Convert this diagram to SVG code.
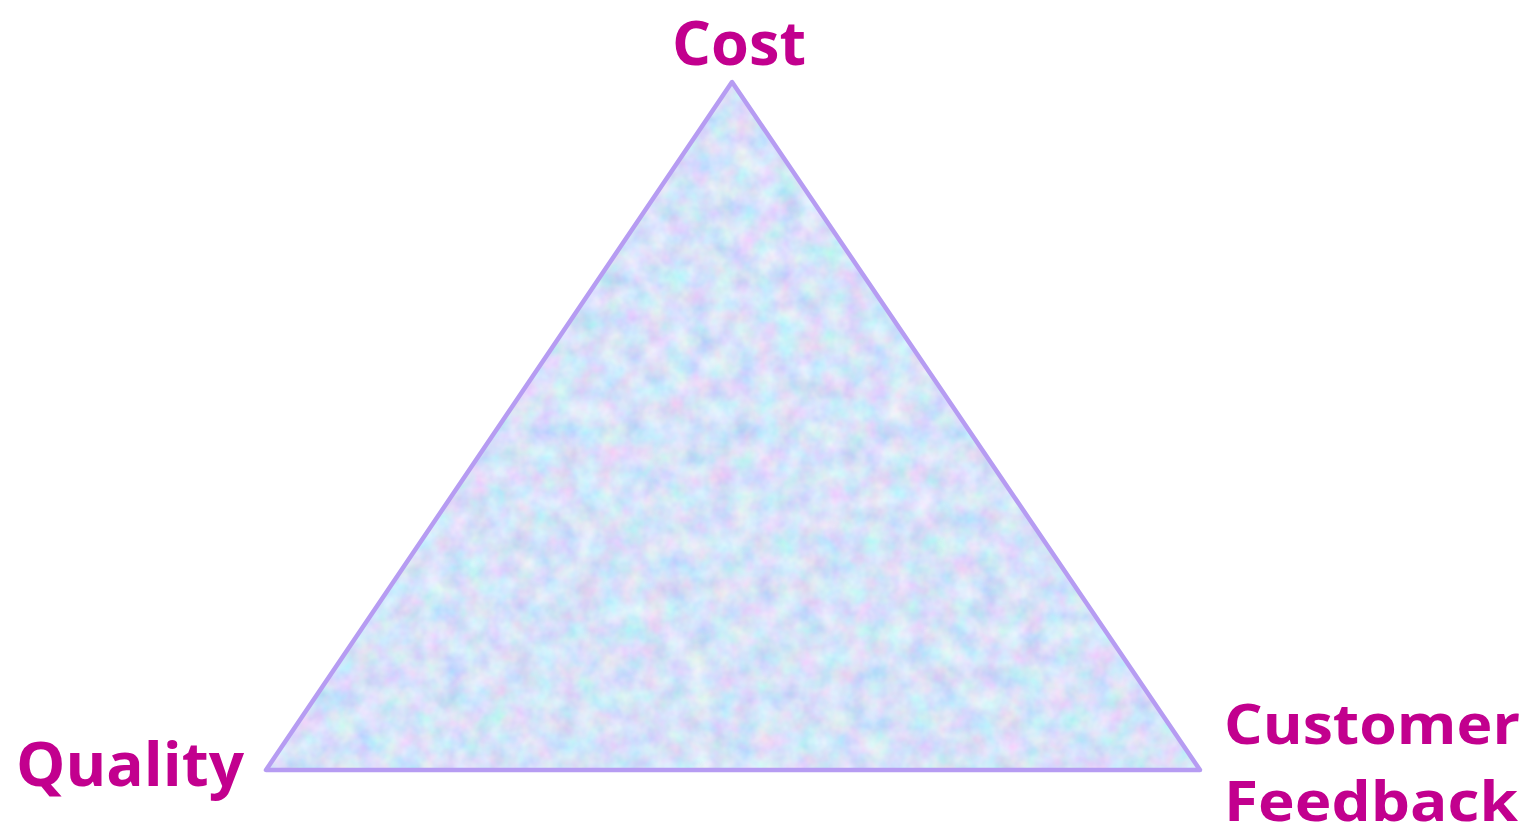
<svg xmlns="http://www.w3.org/2000/svg" width="1530" height="838" viewBox="0 0 1530 838">
  <style>
    .lbl { font-family: "Open Sans", "Noto Sans", "Liberation Sans", sans-serif; font-weight: 700; fill: #C2008E; font-size: 60px; }
    .sm { font-size: 56px; }
  </style>
  <defs>
    <filter id="tex" x="0" y="0" width="100%" height="100%" filterUnits="userSpaceOnUse">
      <feTurbulence type="fractalNoise" baseFrequency="0.045" numOctaves="3" seed="7" result="n"/>
      <feColorMatrix in="n" type="matrix" values="0.7 0 0 0 0.36  0 0.55 0 0 0.52  0 0 0.3 0 0.8  0 0 0 0 1"/>
    </filter>
    <clipPath id="triClip">
      <polygon points="732,82 266,770 1200,770"/>
    </clipPath>
  </defs>
  <rect width="1530" height="838" fill="#FFFFFF"/>
  <g id="triangle">
    <polygon points="732,82 266,770 1200,770" fill="#BAD2F5"/>
    <g clip-path="url(#triClip)">
      <rect x="260" y="80" width="945" height="695" filter="url(#tex)" opacity="0.85"/>
    </g>
    <polygon points="732,82 266,770 1200,770" fill="none" stroke="#B69CF2" stroke-width="4.5" stroke-linejoin="round"/>
  </g>
  <g id="connectors"></g>
  <g id="cost">
    <text class="lbl" x="672" y="65" textLength="134" lengthAdjust="spacingAndGlyphs">Cost</text>
  </g>
  <g id="quality">
    <text class="lbl" x="16" y="786" textLength="228" lengthAdjust="spacingAndGlyphs">Quality</text>
  </g>
  <g id="customer-feedback">
    <text class="lbl sm" x="1224" y="744" textLength="296" lengthAdjust="spacingAndGlyphs">Customer</text>
    <text class="lbl sm" x="1224" y="821" textLength="294" lengthAdjust="spacingAndGlyphs">Feedback</text>
  </g>
</svg>
